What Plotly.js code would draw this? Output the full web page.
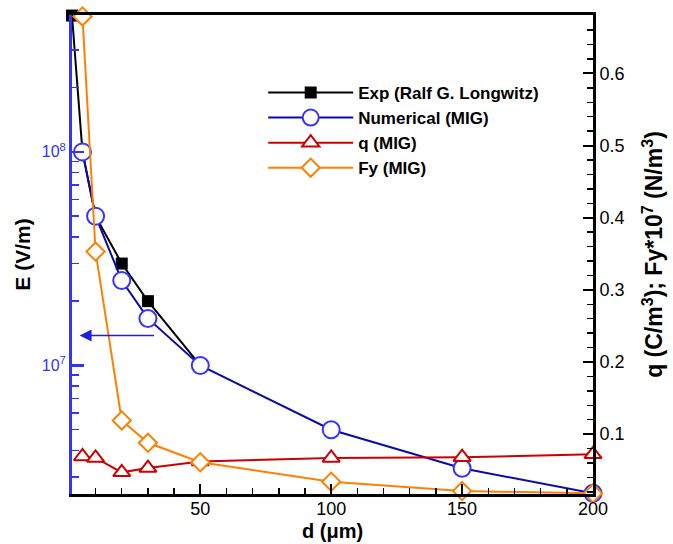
<!DOCTYPE html>
<html>
<head>
<meta charset="utf-8">
<script src="https://cdn.plot.ly/plotly-3.0.1.min.js"></script>
<style>html,body{margin:0;padding:0;background:#fff;}#chart{width:673px;height:544px;}</style>
</head>
<body>
<div id="chart"></div>
<script>
// Data
const dExp = [1, 5, 10, 20, 30, 50];
const eExp = [4.35e8, 1.0e8, 5.0e7, 3.0e7, 2.0e7, 1.0e7];

const dNum = [5, 10, 20, 30, 50, 100, 150, 200];
const eNum = [1.0e8, 5.0e7, 2.5e7, 1.66e7, 1.0e7, 5.0e6, 3.3e6, 2.52e6];

const dQ = [5, 10, 20, 30, 50, 100, 150, 200];
const qVal = [0.069, 0.067, 0.047, 0.053, 0.062, 0.067, 0.068, 0.072];

const dFy = [5, 10, 20, 30, 50, 100, 150, 200];
const fyVal = [0.679, 0.353, 0.119, 0.088, 0.061, 0.034, 0.021, 0.018];

const seriesNames = ["Exp (Ralf G. Longwitz)", "Numerical (MIG)", "q (MIG)", "Fy (MIG)"];
const eTickVals = [1e7, 1e8];
const eTickText = ["10<sup>7</sup>", "10<sup>8</sup>"];
const eMinorVals = [3e6,4e6,5e6,6e6,7e6,8e6,9e6,2e7,3e7,4e7,5e7,6e7,7e7,8e7,9e7,2e8,3e8];

const FONT = "Arial, 'Liberation Sans', sans-serif";
const BLUE_AX = "#3333ff";

const traces = [
  {x: dExp, y: eExp, name: seriesNames[0], type: "scatter", mode: "lines+markers",
   yaxis: "y", cliponaxis: false,
   line: {color: "#000000", width: 2},
   marker: {symbol: "square", size: 12, color: "#000000"}},
  {x: dNum, y: eNum, name: seriesNames[1], type: "scatter", mode: "lines+markers",
   yaxis: "y", cliponaxis: false,
   line: {color: "#0a0aa8", width: 2},
   marker: {symbol: "circle", size: 17, color: "#ffffff", line: {color: "#3535ff", width: 2}}},
  {x: dQ, y: qVal, name: seriesNames[2], type: "scatter", mode: "lines+markers",
   yaxis: "y2", cliponaxis: false,
   line: {color: "#cc0000", width: 2},
   marker: {symbol: "triangle-up", size: 15, color: "#ffffff", line: {color: "#cc0000", width: 2}}},
  {x: dFy, y: fyVal, name: seriesNames[3], type: "scatter", mode: "lines+markers",
   yaxis: "y2", cliponaxis: false,
   line: {color: "#ff8000", width: 2},
   marker: {symbol: "diamond", size: 14, color: "#ffffff", line: {color: "#ff8000", width: 2}}}
];

const layout = {
  width: 673, height: 544,
  margin: {l: 72, r: 80, t: 15, b: 50},
  paper_bgcolor: "#ffffff", plot_bgcolor: "#ffffff",
  font: {family: FONT, size: 18, color: "#000000"},
  showlegend: true,
  legend: {x: 0.367, y: 0.875, xanchor: "left", yanchor: "top",
    font: {family: FONT, size: 17, color: "#000000", weight: "bold"},
    bgcolor: "rgba(0,0,0,0)", borderwidth: 0, itemwidth: 85, tracegroupgap: 0},
  xaxis: {
    range: [1, 200], tick0: 0, dtick: 50, showgrid: false, zeroline: false,
    ticks: "inside", ticklen: 10, tickwidth: 2, tickcolor: "#000",
    showline: true, linecolor: "#000", linewidth: 3, mirror: true,
    minor: {dtick: 10, tick0: 0, ticks: "inside", ticklen: 6, tickwidth: 1.5, tickcolor: "#000", showgrid: false},
    tickfont: {family: FONT, size: 18, color: "#000"},
    ticklabelstandoff: -4,
    title: {text: ""}
  },
  yaxis: {
    type: "log", range: [6.398, 8.641], showgrid: false, zeroline: false,
    tickmode: "array", tickvals: eTickVals, ticktext: eTickText,
    ticks: "inside", ticklen: 12, tickwidth: 2.5, tickcolor: BLUE_AX,
    showline: true, linecolor: BLUE_AX, linewidth: 3,
    minor: {tickmode: "array", tickvals: eMinorVals, ticks: "inside", ticklen: 7, tickwidth: 1.5, tickcolor: BLUE_AX, showgrid: false},
    tickfont: {family: FONT, size: 16, color: BLUE_AX},
    title: {text: "<b>E (V/m)</b>", font: {family: FONT, size: 21, color: "#000"}, standoff: 6}
  },
  yaxis2: {
    overlaying: "y", side: "right", range: [0.017, 0.681],
    tick0: 0, dtick: 0.1, showgrid: false, zeroline: false,
    ticks: "inside", ticklen: 10, tickwidth: 2, tickcolor: "#000",
    showline: true, linecolor: "#000", linewidth: 3,
    minor: {dtick: 0.02, tick0: 0, ticks: "inside", ticklen: 6, tickwidth: 1.5, tickcolor: "#000", showgrid: false},
    tickfont: {family: FONT, size: 18, color: "#000"},
    title: {text: "<b>q (C/m<sup>3</sup>); Fy*10<sup>7</sup> (N/m<sup>3</sup>)</b>", font: {family: FONT, size: 23, color: "#000"}, standoff: 23}
  },
  annotations: [
    {x: 0.5, y: -0.078, xref: "paper", yref: "paper", xanchor: "center", yanchor: "middle",
     text: "<b>d (μm)</b>", showarrow: false, font: {family: FONT, size: 20, color: "#000"}},
    {x: 3.9, y: Math.log10(1.38e7), xref: "x", yref: "y", ax: 76, ay: 0, text: "",
     showarrow: true, arrowhead: 2, arrowsize: 1.6, arrowwidth: 1.5, arrowcolor: "#1e1ee6"}
  ]
};

Plotly.newPlot("chart", traces, layout, {displayModeBar: false, staticPlot: true});
</script>
</body>
</html>
